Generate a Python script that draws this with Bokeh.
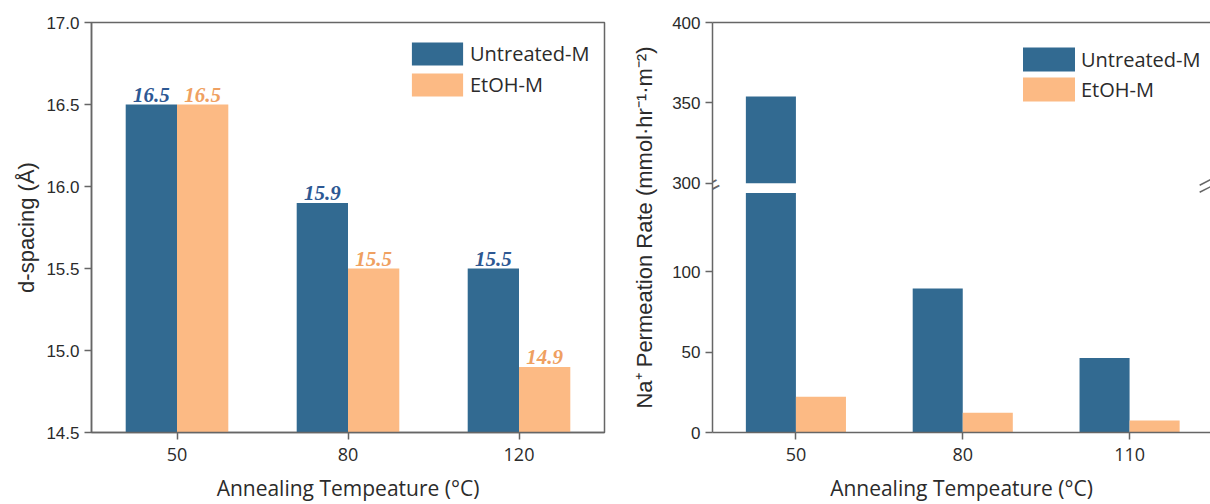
import numpy as np
from bokeh.plotting import figure
from bokeh.models import (Range1d, FixedTicker, LinearAxis, Label, Legend,
                          LegendItem, ColumnDataSource, PrintfTickFormatter)
from bokeh.layouts import row
from bokeh.embed import file_html
from bokeh.resources import INLINE

# ---------------- data ----------------
series_names = ["Untreated-M", "EtOH-M"]

d_temps = ["50", "80", "120"]
d_untreated = [16.5, 15.9, 15.5]
d_etoh = [16.5, 15.5, 14.9]
d_yticks = [14.5, 15.0, 15.5, 16.0, 16.5, 17.0]

perm_temps = ["50", "80", "110"]
perm_untreated = [354, 89.5, 46.3]
perm_etoh = [22.2, 12.3, 7.4]
perm_low_ticks = [0, 50, 100]
perm_high_ticks = [300, 350, 400]

# ---------------- style ----------------
BLUE = "#326A91"
ORANGE = "#FCBA84"
BLUE_TXT = "#2D5893"
ORANGE_TXT = "#EFA061"
AXIS = "#666666"
TXT = "#2b2b2b"
BAR_W = 0.3
XTITLE = "Annealing Tempeature (°C)"


def style_axis(ax, font, size):
    ax.axis_line_color = AXIS
    ax.axis_line_width = 1.5
    ax.major_tick_line_color = AXIS
    ax.major_tick_line_width = 1.5
    ax.major_tick_in = 0
    ax.major_tick_out = 7
    ax.minor_tick_line_color = None
    ax.major_label_text_color = TXT
    ax.major_label_text_font = font
    ax.major_label_text_font_size = size
    ax.major_label_standoff = 5
    ax.axis_label_text_font_style = "normal"
    ax.axis_label_text_color = TXT


def style_xaxis(ax, ticks, labels):
    style_axis(ax, "Open Sans", "18px")
    ax.ticker = FixedTicker(ticks=list(ticks))
    ax.major_label_overrides = {int(p): t for p, t in zip(ticks, labels)}
    ax.major_label_standoff = 8
    ax.axis_label = XTITLE
    ax.axis_label_text_font = "Open Sans"
    ax.axis_label_text_font_size = "21px"
    ax.axis_label_standoff = 10


def make_legend(renderers, loc, gw, gh, sp, standoff):
    return Legend(items=[LegendItem(label=n, renderers=[r]) for n, r in zip(series_names, renderers)],
                  location=loc, glyph_width=gw, glyph_height=gh, label_height=gh,
                  spacing=sp, padding=0, margin=0, label_standoff=standoff,
                  border_line_color=None, background_fill_alpha=0,
                  label_text_font="Open Sans", label_text_font_size="20px",
                  label_text_color=TXT)


# ================= left panel: d-spacing =================
pos1 = np.arange(len(d_temps)) + 1.0
p1 = figure(width=628, height=504, output_backend="svg", toolbar_location=None,
            x_range=Range1d(0.5, len(d_temps) + 0.5), y_range=Range1d(d_yticks[0], d_yticks[-1]),
            min_border_left=91, min_border_right=24, min_border_top=21, min_border_bottom=72)
p1.xgrid.visible = False
p1.ygrid.visible = False
p1.outline_line_color = AXIS
p1.outline_line_width = 1.5

src1 = ColumnDataSource(dict(xu=pos1 - BAR_W / 2, xe=pos1 + BAR_W / 2,
                             u=d_untreated, e=d_etoh,
                             tu=[f"{v:.1f}" for v in d_untreated],
                             te=[f"{v:.1f}" for v in d_etoh]))
r1u = p1.vbar(x="xu", top="u", bottom=d_yticks[0], width=BAR_W, source=src1,
              fill_color=BLUE, line_color=None)
r1e = p1.vbar(x="xe", top="e", bottom=d_yticks[0], width=BAR_W, source=src1,
              fill_color=ORANGE, line_color=None)
for xf, tf, yf, col in [("xu", "tu", "u", BLUE_TXT), ("xe", "te", "e", ORANGE_TXT)]:
    p1.text(x=xf, y=yf, text=tf, source=src1, text_align="center", text_baseline="alphabetic",
            y_offset=-10, text_font={"value": "Liberation Serif"}, text_font_style="bold italic",
            text_font_size="21px", text_color=col)

style_xaxis(p1.xaxis[0], pos1, d_temps)

ya = p1.yaxis[0]
style_axis(ya, "Liberation Sans", "17px")
ya.ticker = FixedTicker(ticks=d_yticks)
ya.formatter = PrintfTickFormatter(format="%.1f")
ya.axis_label = "d-spacing (Å)"
ya.axis_label_text_font = "Liberation Sans"
ya.axis_label_text_font_size = "22px"
ya.axis_label_standoff = 4

p1.add_layout(make_legend([r1u, r1e], (314, 411 - 18 - 60), 64, 29, 2, 1))

# ================= right panel: permeation (broken axis) =================
BREAK_LO = 149      # top of lower segment
BREAK_HI = 300      # bottom of upper segment
TOP_START = 145     # value of upper range at frame bottom
YMAX = 400

pos2 = np.arange(len(perm_temps)) + 1.0
p2 = figure(width=582, height=504, output_backend="svg", toolbar_location=None,
            x_range=Range1d(0.5, 3.485), y_range=Range1d(0, YMAX - TOP_START),
            min_border_left=84, min_border_right=0, min_border_top=22, min_border_bottom=72)
p2.extra_y_ranges = {"top": Range1d(TOP_START, YMAX)}
p2.xgrid.visible = False
p2.ygrid.visible = False
p2.outline_line_color = None

pu = np.array(perm_untreated)
pe = np.array(perm_etoh)
r2u = p2.vbar(x=pos2 - BAR_W / 2, top=np.minimum(pu, BREAK_LO), bottom=0, width=BAR_W,
              fill_color=BLUE, line_color=None)
r2e = p2.vbar(x=pos2 + BAR_W / 2, top=np.minimum(pe, BREAK_LO), bottom=0, width=BAR_W,
              fill_color=ORANGE, line_color=None)
mu = pu > BREAK_HI
me = pe > BREAK_HI
if mu.any():
    p2.vbar(x=(pos2 - BAR_W / 2)[mu], top=pu[mu], bottom=BREAK_HI, width=BAR_W,
            fill_color=BLUE, line_color=None, y_range_name="top")
if me.any():
    p2.vbar(x=(pos2 + BAR_W / 2)[me], top=pe[me], bottom=BREAK_HI, width=BAR_W,
            fill_color=ORANGE, line_color=None, y_range_name="top")

style_xaxis(p2.xaxis[0], pos2, perm_temps)

yb = p2.yaxis[0]
style_axis(yb, "Liberation Sans", "17px")
yb.ticker = FixedTicker(ticks=perm_low_ticks + [t - TOP_START for t in perm_high_ticks])
over = {t: str(t) for t in perm_low_ticks}
over.update({t - TOP_START: str(t) for t in perm_high_ticks})
yb.major_label_overrides = over
yb.axis_label = "Na⁺ Permeation Rate (mmol·hr⁻¹·m⁻²)"
yb.axis_label_text_font = "Liberation Sans"
yb.axis_label_text_font_size = "22px"
yb.axis_label_standoff = 12

top_ax = LinearAxis(ticker=FixedTicker(ticks=[]), axis_line_color=AXIS, axis_line_width=1.5,
                    major_tick_out=0, major_tick_in=0, major_label_standoff=0,
                    major_label_text_font_size="0px", minor_tick_line_color=None)
p2.add_layout(top_ax, "above")

# break marks
y_brk = BREAK_HI - TOP_START - 1
p2.add_layout(Label(x=p2.x_range.start, y=y_brk, text="=", angle=np.radians(28),
                    text_align="center", text_baseline="middle", text_font="Liberation Sans",
                    text_font_size="24px", text_color=AXIS))
xe_ = p2.x_range.end - 0.02
for dy in (-2.2, 2.2):
    p2.segment(x0=[xe_ - 0.045], y0=[y_brk + dy - 2.4], x1=[xe_ + 0.045], y1=[y_brk + dy + 2.4],
               line_color=AXIS, line_width=1.5)

p2.add_layout(make_legend([r2u, r2e], (304, 410 - 22 - 60), 65, 30, 0, 0))

layout = row(p1, p2)
open("out.html", "w").write(file_html(layout, INLINE))
